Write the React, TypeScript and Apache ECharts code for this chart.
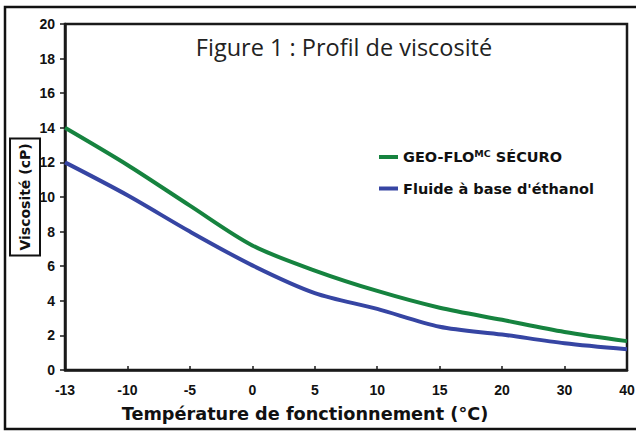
import React, { useEffect, useRef } from "react";
import * as echarts from "echarts";

const categories = ["-13", "-10", "-5", "0", "5", "10", "15", "20", "30", "40"];
const geoFlo = [14, 11.85, 9.5, 7.2, 5.75, 4.57, 3.6, 2.9, 2.2, 1.67];
const ethanol = [12, 10.1, 8.0, 6.05, 4.45, 3.53, 2.5, 2.05, 1.55, 1.2];
const seriesNames = ["GEO-FLO SÉCURO", "Fluide à base d'éthanol"];
const titleText = "Figure 1 : Profil de viscosité";
const xName = "Température de fonctionnement (°C)";
const yName = "Viscosité (cP)";

export default function App() {
  const ref = useRef<HTMLDivElement>(null);
  useEffect(() => {
    if (!ref.current) return;
    const chart = echarts.init(ref.current, null, { renderer: "svg" });
    const tick = { fontFamily: "Liberation Sans", fontWeight: "bold", fontSize: 14, color: "#111" };
    chart.setOption({
      animation: false,
      backgroundColor: "#fff",
      grid: {
        left: 65,
        top: 24,
        right: 9,
        bottom: 62,
        containLabel: false,
        outerBoundsMode: "none",
        show: true,
        borderColor: "#1a1a1a",
        borderWidth: 2.5,
      },
      legend: {
        orient: "vertical",
        left: 379,
        top: 148,
        padding: 0,
        itemWidth: 19,
        itemHeight: 4,
        itemGap: 15,
        icon: "rect",
        data: seriesNames,
        formatter: (n: string) => (n === seriesNames[0] ? "{b|GEO-FLO}{sup|MC}{b| SÉCURO}" : "{b|" + n + "}"),
        textStyle: {
          rich: {
            b: { fontFamily: "DejaVu Sans", fontWeight: "bold", fontSize: 14.5, color: "#111", lineHeight: 18 },
            sup: { fontFamily: "DejaVu Sans", fontWeight: "bold", fontSize: 9.5, color: "#111", lineHeight: 18, padding: [0, 0, 8, 0] },
          },
        },
      },
      xAxis: {
        type: "category",
        data: categories,
        boundaryGap: false,
        axisLine: { lineStyle: { color: "#1a1a1a", width: 2.5 } },
        axisTick: { inside: true, length: 4, lineStyle: { color: "#1a1a1a", width: 1.5 } },
        axisLabel: { ...tick, margin: 13 },
        splitLine: { show: false },
      },
      yAxis: {
        type: "value",
        min: 0,
        max: 20,
        interval: 2,
        name: yName,
        nameLocation: "middle",
        nameRotate: 90,
        nameGap: 25,
        nameMoveOverlap: false,
        nameTextStyle: {
          fontFamily: "DejaVu Sans",
          fontWeight: "bold",
          fontSize: 14,
          color: "#111",
          borderColor: "#111",
          borderWidth: 2,
          padding: [8, 5, 8, 5],
        },
        axisLine: { show: true, lineStyle: { color: "#1a1a1a", width: 2.5 } },
        axisTick: { show: true, length: 5, lineStyle: { color: "#1a1a1a", width: 1.5 } },
        axisLabel: { ...tick, margin: 10 },
        splitLine: { show: false },
      },
      graphic: [
        {
          type: "rect",
          shape: { x: 5, y: 7, width: 640, height: 422 },
          style: { fill: "none", stroke: "#111", lineWidth: 2.5 },
          silent: true,
        },
        {
          type: "text",
          x: 344,
          y: 47,
          style: {
            text: titleText,
            fontFamily: "Open Sans",
            fontSize: 23.5,
            fill: "#222",
            align: "center",
            verticalAlign: "middle",
          },
        },
        {
          type: "text",
          x: 305,
          y: 414,
          style: {
            text: xName,
            fontFamily: "DejaVu Sans",
            fontWeight: "bold",
            fontSize: 17.7,
            fill: "#111",
            align: "center",
            verticalAlign: "middle",
          },
        },
      ],
      series: [
        {
          name: seriesNames[0],
          type: "line",
          data: geoFlo,
          smooth: 0.3,
          showSymbol: false,
          symbol: "none",
          lineStyle: { color: "#16833f", width: 4 },
          itemStyle: { color: "#16833f" },
        },
        {
          name: seriesNames[1],
          type: "line",
          data: ethanol,
          smooth: 0.3,
          showSymbol: false,
          symbol: "none",
          lineStyle: { color: "#3645a3", width: 4 },
          itemStyle: { color: "#3645a3" },
        },
      ],
    });
    return () => chart.dispose();
  }, []);
  return <div ref={ref} style={{ width: 636, height: 432, position: "absolute", left: 0, top: 0 }} />;
}
